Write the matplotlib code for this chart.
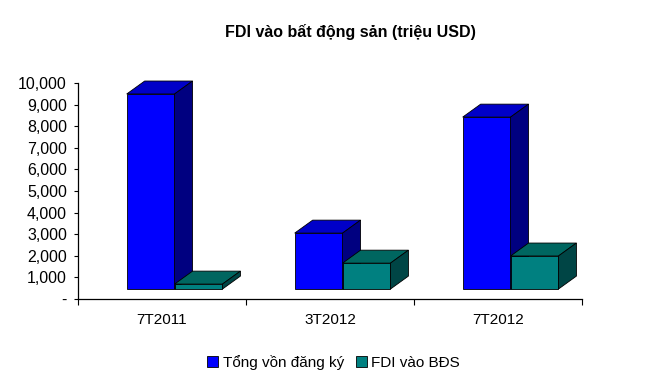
import matplotlib.pyplot as plt
from matplotlib.patches import Polygon, Patch
from matplotlib.ticker import FuncFormatter

plt.rcParams['font.family'] = ['Liberation Sans', 'DejaVu Sans']

categories = ["7T2011", "3T2012", "7T2012"]
tong_von = [9030, 2590, 7960]
fdi_bds = [230, 1200, 1530]
series_names = ["Tổng vồn đăng ký", "FDI vào BĐS"]
title = "FDI vào bất động sản (triệu USD)"

# face colours: front, top, side
blue_faces = ("#0000FF", "#0000C8", "#000080")
teal_faces = ("#008080", "#006660", "#004545")

width = 0.285
depth_x = 0.107
depth_y = 600
base = 460


def box(ax, x0, value, faces):
    x1 = x0 + width
    top = base + value
    ax.bar(x0, value, width=width, bottom=base, align="edge",
           color=faces[0], edgecolor="black", linewidth=0.6, clip_on=False)
    top_face = [(x0, top), (x0 + depth_x, top + depth_y),
                (x1 + depth_x, top + depth_y), (x1, top)]
    side_face = [(x1, base), (x1, top), (x1 + depth_x, top + depth_y),
                 (x1 + depth_x, base + depth_y)]
    ax.add_patch(Polygon(top_face, closed=True, facecolor=faces[1],
                         edgecolor="black", linewidth=0.6, clip_on=False))
    ax.add_patch(Polygon(side_face, closed=True, facecolor=faces[2],
                         edgecolor="black", linewidth=0.6, clip_on=False))


fig = plt.figure(figsize=(6.52, 3.89), dpi=100)
ax = fig.add_axes([0.1196, 0.2314, 0.773, 0.5553])

for i in range(len(categories)):
    left = i - 0.21
    box(ax, left, tong_von[i], blue_faces)
    box(ax, left + width, fdi_bds[i], teal_faces)

ax.set_xlim(-0.5, len(categories) - 0.5)
ax.set_ylim(0, 10000)
ax.set_yticks(range(0, 10001, 1000))
ax.yaxis.set_major_formatter(FuncFormatter(
    lambda v, p: "-" if v == 0 else "{:,.0f}".format(v)))

ax.set_xticks([i - 0.5 for i in range(len(categories) + 1)])
ax.set_xticklabels([])
ax.set_xticks(range(len(categories)), minor=True)
ax.set_xticklabels(categories, minor=True)
ax.tick_params(axis="x", which="major", direction="out", length=4, width=0.8)
ax.tick_params(axis="x", which="minor", length=0, pad=10, labelsize=11)
ax.tick_params(axis="y", direction="out", length=3, width=0.8, pad=5,
               labelsize=11.5)

for s in ["top", "right"]:
    ax.spines[s].set_visible(False)
for s in ["left", "bottom"]:
    ax.spines[s].set_linewidth(0.9)

fig.text(0.538, 0.918, title, ha="center", va="center",
         fontsize=11.5, fontweight="bold")

handles = [Patch(facecolor=blue_faces[0], edgecolor="black", linewidth=0.6),
           Patch(facecolor=teal_faces[0], edgecolor="black", linewidth=0.6)]
fig.legend(handles, series_names, loc="center", bbox_to_anchor=(0.512, 0.069),
           ncol=2, frameon=False, fontsize=11, handlelength=0.7,
           handleheight=0.7, handletextpad=0.3, columnspacing=0.8)

fig.savefig("out.png", dpi=100)
